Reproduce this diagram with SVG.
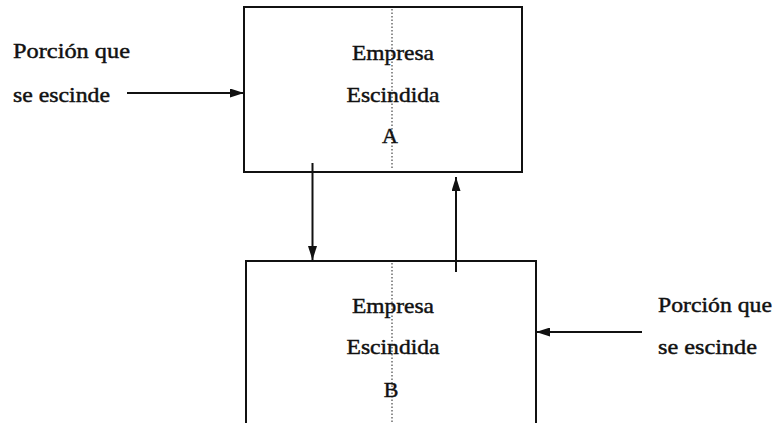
<svg xmlns="http://www.w3.org/2000/svg" width="776" height="423" viewBox="0 0 776 423">
<style>
.box{fill:#fff;stroke:#111;stroke-width:2}
.dot{stroke:#555;stroke-width:1.3;stroke-dasharray:1.5 2;fill:none}
.t{font-family:"Liberation Serif","Times New Roman",serif;font-size:22px;fill:#111;stroke:#111;stroke-width:0.45}
.c{text-anchor:middle}
.ln{stroke:#111;stroke-width:2;fill:none;marker-end:url(#ah)}
</style>
<defs>
<marker id="ah" markerWidth="14" markerHeight="9" refX="14" refY="4.5" orient="auto" markerUnits="userSpaceOnUse">
<path d="M0,0 L14,4.5 L0,9 Z" fill="#111"/>
</marker>
</defs>
<rect width="776" height="423" fill="#fff"/>
<g id="nodeA">
<rect class="box" x="244" y="7" width="278" height="165"/>
<line class="dot" x1="392" y1="9" x2="392" y2="170"/>
<text class="t c" x="393" y="60" textLength="82" lengthAdjust="spacingAndGlyphs">Empresa</text>
<text class="t c" x="393" y="102" textLength="93" lengthAdjust="spacingAndGlyphs">Escindida</text>
<text class="t c" x="390" y="143">A</text>
</g>
<g id="nodeB">
<path class="box" d="M246,423 V261 H536 V423"/>
<line class="dot" x1="392" y1="263" x2="392" y2="423"/>
<text class="t c" x="393" y="313" textLength="82" lengthAdjust="spacingAndGlyphs">Empresa</text>
<text class="t c" x="393" y="354" textLength="93" lengthAdjust="spacingAndGlyphs">Escindida</text>
<text class="t c" x="391" y="397">B</text>
</g>
<g id="labelLeft">
<text class="t" x="13" y="58" textLength="117" lengthAdjust="spacingAndGlyphs">Porción que</text>
<text class="t" x="13" y="102" textLength="97" lengthAdjust="spacingAndGlyphs">se escinde</text>
</g>
<g id="labelRight">
<text class="t" x="658" y="312" textLength="114" lengthAdjust="spacingAndGlyphs">Porción que</text>
<text class="t" x="658" y="354" textLength="99" lengthAdjust="spacingAndGlyphs">se escinde</text>
</g>
<g id="connectors">
<line class="ln" x1="127" y1="93" x2="244" y2="93"/>
<line class="ln" x1="312.5" y1="163" x2="312.5" y2="260"/>
<line class="ln" x1="456" y1="272" x2="456" y2="177"/>
<line class="ln" x1="642" y1="332" x2="536" y2="332"/>
</g>
</svg>
